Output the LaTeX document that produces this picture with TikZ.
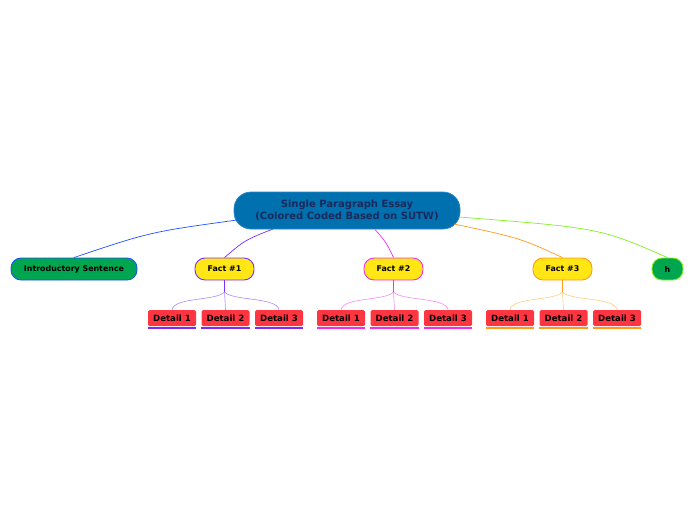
\documentclass[tikz,border=0pt]{standalone}
\usepackage{fontspec}
\setmainfont{DejaVu Sans}
\begin{document}
\begin{tikzpicture}[x=1pt,y=-1pt,
  central/.style={draw=cblueb,fill=cblue,text=cnavy,rounded corners=17pt,minimum width=226pt,minimum height=37pt,align=center,font=\bfseries\fontsize{10}{11.5}\selectfont,line width=0.8pt},
  topic/.style={rounded corners=10pt,minimum height=22pt,font=\bfseries\fontsize{7.9}{9}\selectfont,line width=0.9pt,inner sep=0pt},
  fact/.style={topic,fill=fyel,minimum width=59pt},
  detail/.style={fill=dred,rounded corners=1.5pt,minimum width=48pt,minimum height=16pt,inner sep=0pt,font=\bfseries\fontsize{8.6}{9}\selectfont},
  conn/.style={line width=0.7pt},
  sub/.style={line width=0.6pt}]
\definecolor{cblue}{HTML}{0070AE}
\definecolor{cblueb}{HTML}{2A86C8}
\definecolor{cnavy}{HTML}{1B2A5C}
\definecolor{fyel}{HTML}{FFE614}
\definecolor{dred}{HTML}{FF3642}
\definecolor{igreen}{HTML}{00A550}
\definecolor{lblue}{HTML}{1F4FFF}
\definecolor{purp}{HTML}{7B2BFF}
\definecolor{mag}{HTML}{F02DF5}
\definecolor{orng}{HTML}{FF9A1A}
\definecolor{lgreen}{HTML}{80F21F}
\definecolor{purpl}{HTML}{A98BFF}
\definecolor{magl}{HTML}{F58AF7}
\definecolor{orngl}{HTML}{FFCC80}
\useasboundingbox (0,0) rectangle (696,520);

\node[central] (c) at (347,210.5) {Single Paragraph Essay\\(Colored Coded Based on SUTW)};

\node[topic,fill=igreen,draw=lblue,minimum width=126pt] (intro) at (74,269) {Introductory Sentence};
\node[fact,draw=purp] (f1) at (224.5,269) {Fact \#1};
\node[fact,draw=mag] (f2) at (393.5,269) {Fact \#2};
\node[fact,draw=orng] (f3) at (562.5,269) {Fact \#3};
\node[topic,fill=igreen,draw=lgreen,minimum width=31pt] (h) at (667.5,269) {h};

\coordinate (c0) at (237,220);
\coordinate (c1) at (273,229);
\coordinate (c2) at (375,229.5);
\coordinate (c3) at (454,224);
\coordinate (c4) at (459,217);
\draw[conn,lblue] (c0) .. controls (150,232) .. (intro.north);
\draw[conn,purp] (c1) .. controls (245,240) .. (f1.north);
\draw[conn,mag] (c2) .. controls (386,242) .. (f2.north);
\draw[conn,orng] (c3) .. controls (520,238) .. (f3.north);
\draw[conn,lgreen] (c4) .. controls (600,228) .. (h.north);

% details
\foreach \f/\x/\fx/\col/\lc in {1/172/224.5/purp/purpl,2/341/393.5/mag/magl,3/510/562.5/orng/orngl}{
  \node[detail] (d\f a) at (\x,318) {Detail 1};
  \node[detail] (d\f b) at (\x+53.5,318) {Detail 2};
  \node[detail] (d\f c) at (\x+107,318) {Detail 3};
  \foreach \d in {a,b,c}{
    \draw[\col,line width=1.6pt] ([yshift=-1.6pt]d\f\d.south west) -- ([yshift=-1.6pt]d\f\d.south east);
  }
  \coordinate (s\f) at (\fx,292);
  \draw[\col,line width=1.3pt] (f\f.south) -- (s\f);
  \draw[sub,\lc] (s\f) -- (d\f b.north);
  \draw[sub,\lc] (s\f) .. controls (\fx-8,301) and (\x+2,297) .. (d\f a.north);
  \draw[sub,\lc] (s\f) .. controls (\fx+8,301) and (\x+105,297) .. (d\f c.north);
}
\end{tikzpicture}
\end{document}
